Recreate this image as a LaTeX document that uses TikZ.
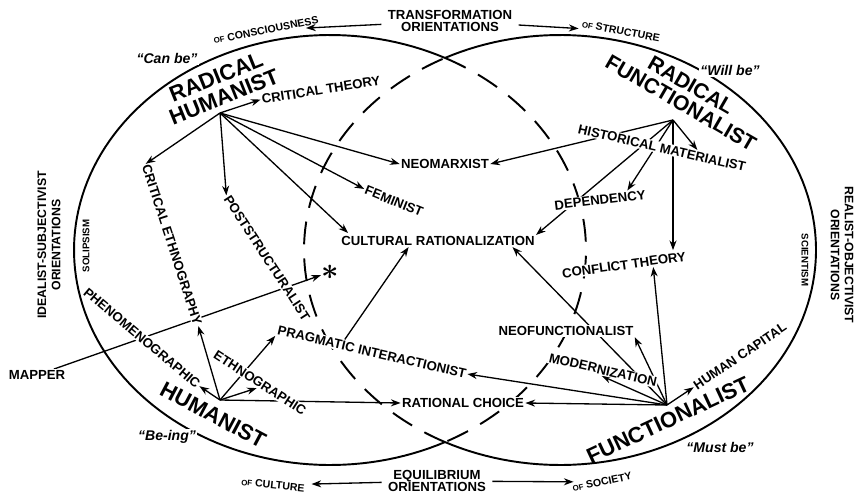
\documentclass[tikz,border=0pt]{standalone}
\usepackage{fontspec}
\setmainfont{Liberation Sans}
\usetikzlibrary{arrows.meta,calc,positioning,backgrounds}

\tikzset{
  lbl/.style={font=\fontsize{7.5}{8}\selectfont\bfseries, inner sep=0.6pt, fill=white},
  biglbl/.style={font=\fontsize{12.5}{12}\selectfont\bfseries, inner sep=0.5pt, align=center},
  quote/.style={font=\fontsize{8}{8}\selectfont\bfseries\itshape, inner sep=0.8pt, fill=white},
  orient/.style={font=\fontsize{7.5}{7.2}\selectfont\bfseries, align=center, inner sep=0.5pt},
  sideorient/.style={font=\fontsize{7}{8}\selectfont\bfseries, align=center, inner sep=0.5pt},
  ofl/.style={font=\fontsize{6}{6}\selectfont\bfseries, inner sep=0.5pt},
  tinylbl/.style={font=\fontsize{5.5}{6}\selectfont\bfseries, inner sep=0.3pt, fill=white},
  arr/.style={-{Stealth[length=5.5pt,width=4pt]}, line width=0.75pt},
  field/.style={line width=1.1pt},
  dashline/.style={dash pattern=on 13pt off 8pt}
}
\newcommand{\smallof}{{\fontsize{4.5}{5}\selectfont OF}}

\begin{document}
\begin{tikzpicture}[x=0.02cm, y=-0.02cm]
\useasboundingbox (0,0) rectangle (857,497);

% ================= FIELDS =================
% left field (humanist side)
\draw[field] plot[domain=63.3:296.7, samples=120] ({330+256*cos(\x)}, {250+215*sin(\x)});
\draw[field, dashline] plot[domain=-63.3:63.3, samples=80] ({330+256*cos(\x)}, {250+215*sin(\x)});
% right field (functionalist side)
\draw[field] plot[domain=-116.7:116.7, samples=120] ({560+256*cos(\x)}, {250+215*sin(\x)});
\draw[field, dashline] plot[domain=116.7:243.3, samples=80] ({560+256*cos(\x)}, {250+215*sin(\x)});

% hubs
\coordinate (rh) at (220,113);
\coordinate (rf) at (673,120);
\coordinate (hu) at (220,400);
\coordinate (fu) at (667,405);

% ================= LABELS =================
\node[orient] (trans) at (450,21) {TRANSFORMATION\\ORIENTATIONS};
\node[ofl, rotate=11] (ofcons) at (266,30) {\smallof{} CONSCIOUSNESS};
\node[ofl, rotate=-11] (ofstruct) at (621,31) {\smallof{} STRUCTURE};
\node[orient] (equil) at (437,481) {EQUILIBRIUM\\ORIENTATIONS};
\node[ofl, rotate=-6] (ofcult) at (273,485) {\smallof{} CULTURE};
\node[ofl, rotate=12] (ofsoc) at (602,482) {\smallof{} SOCIETY};

\node[sideorient, rotate=90] (idealist) at (49,245) {IDEALIST-SUBJECTIVIST\\ORIENTATIONS};
\node[tinylbl, rotate=90] (solips) at (86,246) {SOLIPSISM};
\node[sideorient, rotate=-90] (realist) at (842,255) {REALIST-OBJECTIVIST\\ORIENTATIONS};
\node[tinylbl, rotate=-90] (scient) at (805,260) {SCIENTISM};

\node[quote] (canbe) at (167,58) {``Can be''};
\node[quote] (willbe) at (730,70) {``Will be''};
\node[quote] (being) at (167,437) {``Be-ing''};
\node[quote] (mustbe) at (720,447) {``Must be''};

% radical humanist
\node[lbl, rotate=9] (crittheory) at (321,90) {CRITICAL THEORY};
\node[lbl] (neomarx) at (445,164) {NEOMARXIST};
\node[lbl, rotate=-22] (feminist) at (394,201) {FEMINIST};
\node[lbl] (culrat) at (438,241) {CULTURAL RATIONALIZATION};
\node[lbl, rotate=-72] (critethno) at (172,245) {CRITICAL ETHNOGRAPHY};
\node[lbl, rotate=-57] (poststruct) at (267,258) {POSTSTRUCTURALIST};
\node[inner sep=0pt, font=\LARGE\boldmath] (star) at (330,272) {$\ast$};

% humanist
\node[lbl] (mapper) at (37,375) {MAPPER};
\node[lbl, rotate=-40] (phenom) at (142,338) {PHENOMENOGRAPHIC};
\node[lbl, rotate=-33] (ethnog) at (260,383) {ETHNOGRAPHIC};
\node[lbl, rotate=-13] (pragint) at (372,352) {PRAGMATIC INTERACTIONIST};
\node[lbl] (ratchoice) at (463,403) {RATIONAL CHOICE};

% radical functionalist
\node[lbl, rotate=-13] (histmat) at (662,148) {HISTORICAL MATERIALIST};
\node[lbl, rotate=7] (depend) at (600,200) {DEPENDENCY};
\node[lbl, rotate=8] (conflict) at (624,265) {CONFLICT THEORY};

% functionalist
\node[lbl] (neofunc) at (566,331) {NEOFUNCTIONALIST};
\node[lbl, rotate=-13] (modern) at (603,370) {MODERNIZATION};
\node[lbl, rotate=34] (humcap) at (740,356) {HUMAN CAPITAL};

\node[biglbl, rotate=22] (radhum) at (220,87) {RADICAL\\HUMANIST};
\node[biglbl, rotate=-30, font=\fontsize{12}{11.5}\selectfont\bfseries] (radfun) at (686,94) {RADICAL\\FUNCTIONALIST};
\node[biglbl, rotate=-28] (humanist) at (213,415) {HUMANIST};
\node[biglbl, rotate=25] (functionalist) at (668,420) {FUNCTIONALIST};

% ================= CONNECTORS =================
\begin{scope}[on background layer]
\draw[arr, shorten <=3pt, shorten >=3pt] (trans) -- (ofcons);
\draw[arr, shorten <=3pt, shorten >=3pt] (trans) -- (ofstruct);
\draw[arr, shorten <=3pt, shorten >=3pt] (equil) -- (ofcult);
\draw[arr, shorten <=3pt, shorten >=3pt] (equil) -- (ofsoc);

% radical humanist
\draw[arr] (rh) -- (crittheory.west);
\draw[arr] (rh) -- (critethno.west);
\draw[arr] (rh) -- (poststruct.west);
\draw[arr] (rh) -- ($(culrat.north west)+(8,-2)$);
\draw[arr] (rh) -- (feminist.west);
\draw[arr] (rh) -- (neomarx.west);

% radical functionalist
\draw[arr] (rf) -- (neomarx.east);
\draw[arr] (rf) -- (culrat.north east);
\draw[arr] (rf) -- ($(depend.north)!0.6!(depend.north east)$);
\draw[arr] (rf) -- (rf |- conflict.north east);
\draw[arr] (rf) -- ($(histmat.north)!0.4!(histmat.north east)$);

% humanist
\draw[arr] (hu) -- (phenom.east);
\draw[arr] (hu) -- (critethno.east);
\draw[arr] (hu) -- (ethnog.south);
\draw[arr] (hu) -- (pragint.south west);
\draw[arr] (hu) -- (ratchoice.west);
\draw[arr] ($(pragint.north west)!0.35!(pragint.north east)$) -- ($(culrat.south)!0.3!(culrat.south west)$);
\draw[arr] (mapper) -- (star);

% functionalist
\draw[arr] (fu) -- (pragint.east);
\draw[arr] (fu) -- (ratchoice.east);
\draw[arr] (fu) -- (modern.south);
\draw[arr] (fu) -- ($(culrat.south east)!0.12!(culrat.south west)$);
\draw[arr] (fu) -- (neofunc.south east);
\draw[arr] (fu) -- ($(conflict.south)!0.45!(conflict.south east)$);
\draw[arr] (fu) -- (humcap.west);
\end{scope}

\end{tikzpicture}
\end{document}
